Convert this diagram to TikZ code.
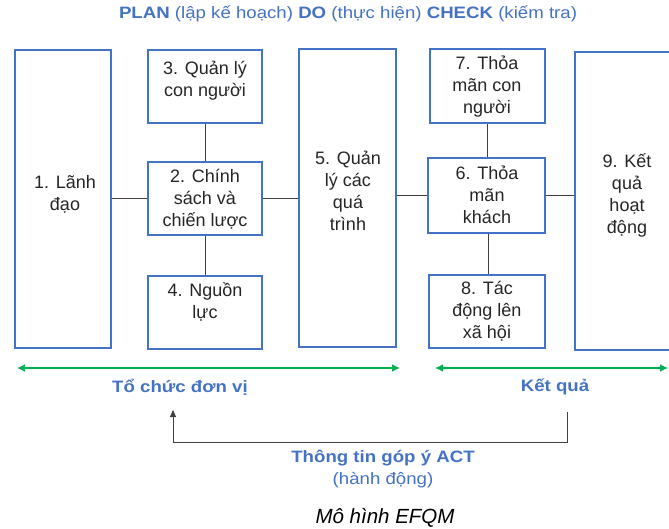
\documentclass[tikz,border=0pt]{standalone}
\usepackage{fontspec}
\setmainfont{Liberation Sans}
\newfontfamily\widefont{Liberation Sans}[FakeStretch=1.13]
\usetikzlibrary{arrows.meta}
\definecolor{bblue}{HTML}{4472C4}
\definecolor{tblue}{HTML}{4472C4}
\definecolor{ggreen}{HTML}{00B050}
\definecolor{lgray}{HTML}{404040}
\begin{document}
\begin{tikzpicture}[x=1pt,y=-1pt,
  box/.style={draw=bblue,line width=1.5pt,inner sep=0pt,fill=white},
  boxtxt/.style={align=center,inner sep=0pt,text=black!85,font=\fontsize{18}{22}\selectfont},
  link/.style={draw=lgray,line width=0.9pt},
  garrow/.style={draw=ggreen,line width=2pt,{Latex[length=8pt,width=8pt]}-{Latex[length=8pt,width=8pt]}},
  bluelbl/.style={text=tblue,inner sep=0pt,font=\widefont\bfseries\fontsize{16.5}{22}\selectfont},
  bluereg/.style={text=tblue,inner sep=0pt,font=\widefont\fontsize{16.5}{22}\selectfont}]
\useasboundingbox (0,0) rectangle (669,529);
\clip (0,0) rectangle (669,529);
\fill[white] (0,0) rectangle (669,529);

% title
\node[bluereg] (title) at (348,14) {\textbf{PLAN} (lập kế hoạch) \textbf{DO} (thực hiện) \textbf{CHECK} (kiếm tra)};

% boxes
\node[box,minimum width=96pt,minimum height=298pt] (b1) at (63,199) {};
\node[box,minimum width=114pt,minimum height=73pt] (b3) at (205,86.5) {};
\node[box,minimum width=114pt,minimum height=73pt] (b2) at (205,198.5) {};
\node[box,minimum width=114pt,minimum height=73pt] (b4) at (205,312.5) {};
\node[box,minimum width=97pt,minimum height=298pt] (b5) at (347.5,198) {};
\node[box,minimum width=115pt,minimum height=74pt] (b7) at (487.5,86) {};
\node[box,minimum width=117pt,minimum height=75pt] (b6) at (486.5,195.5) {};
\node[box,minimum width=116pt,minimum height=73pt] (b8) at (487,311.5) {};
\node[box,minimum width=104pt,minimum height=298pt] (b9) at (627,201) {};

% box texts
\node[boxtxt] (t1) at (65,194) {1. Lãnh\\đạo};
\node[boxtxt] (t3) at (205,81) {3. Quản lý\\con người};
\node[boxtxt] (t2) at (205,199) {2. Chính\\sách và\\chiến lược};
\node[boxtxt] (t4) at (205,302) {4. Nguồn\\lực};
\node[boxtxt] (t5) at (348,191) {5. Quản\\lý các\\quá\\trình};
\node[boxtxt] (t7) at (487,87) {7. Thỏa\\mãn con\\người};
\node[boxtxt] (t6) at (487,195) {6. Thỏa\\mãn\\khách};
\node[boxtxt] (t8) at (487,311) {8. Tác\\động lên\\xã hội};
\node[boxtxt] (t9) at (627,195) {9. Kết\\quả\\hoạt\\động};

% connectors
\draw[link] (b2.west) -- (b2.west -| b1.east);
\draw[link] (b2.east) -- (b2.east -| b5.west);
\draw[link] (b6.west) -- (b6.west -| b5.east);
\draw[link] (b6.east) -- (b6.east -| b9.west);
\draw[link] (b3.south) -- (b2.north);
\draw[link] (b2.south) -- (b4.north);
\draw[link] (b7.south) -- (b7.south |- b6.north);
\draw[link] ([xshift=1.5pt]b6.south) -- ([xshift=1.5pt]b6.south |- b8.north);

% green range arrows
\coordinate (gl1) at (17,368);
\coordinate (gl2) at (400,368);
\coordinate (gr1) at (435,368);
\coordinate (gr2) at (668,368);
\draw[garrow] (gl1) -- (gl2);
\draw[garrow] (gr1) -- (gr2);
\node[bluelbl] (org) at (180,387) {Tổ chức đơn vị};
\node[bluelbl] (res) at (555,387) {Kết quả};

% feedback arrow
\coordinate (fbs) at (567,412);
\coordinate (fbe) at (173,410);
\draw[draw=lgray,line width=0.9pt,-{Triangle[length=7pt,width=6pt]}] (fbs) -- ++(0,30) -| (fbe);
\node[bluelbl] (act) at (383,458) {Thông tin góp ý ACT};
\node[bluereg] (act2) at (383,480) {(hành động)};

% caption
\node[inner sep=0pt,font=\itshape\fontsize{20.5}{24}\selectfont] (cap) at (385,518) {Mô hình EFQM};
\end{tikzpicture}
\end{document}
